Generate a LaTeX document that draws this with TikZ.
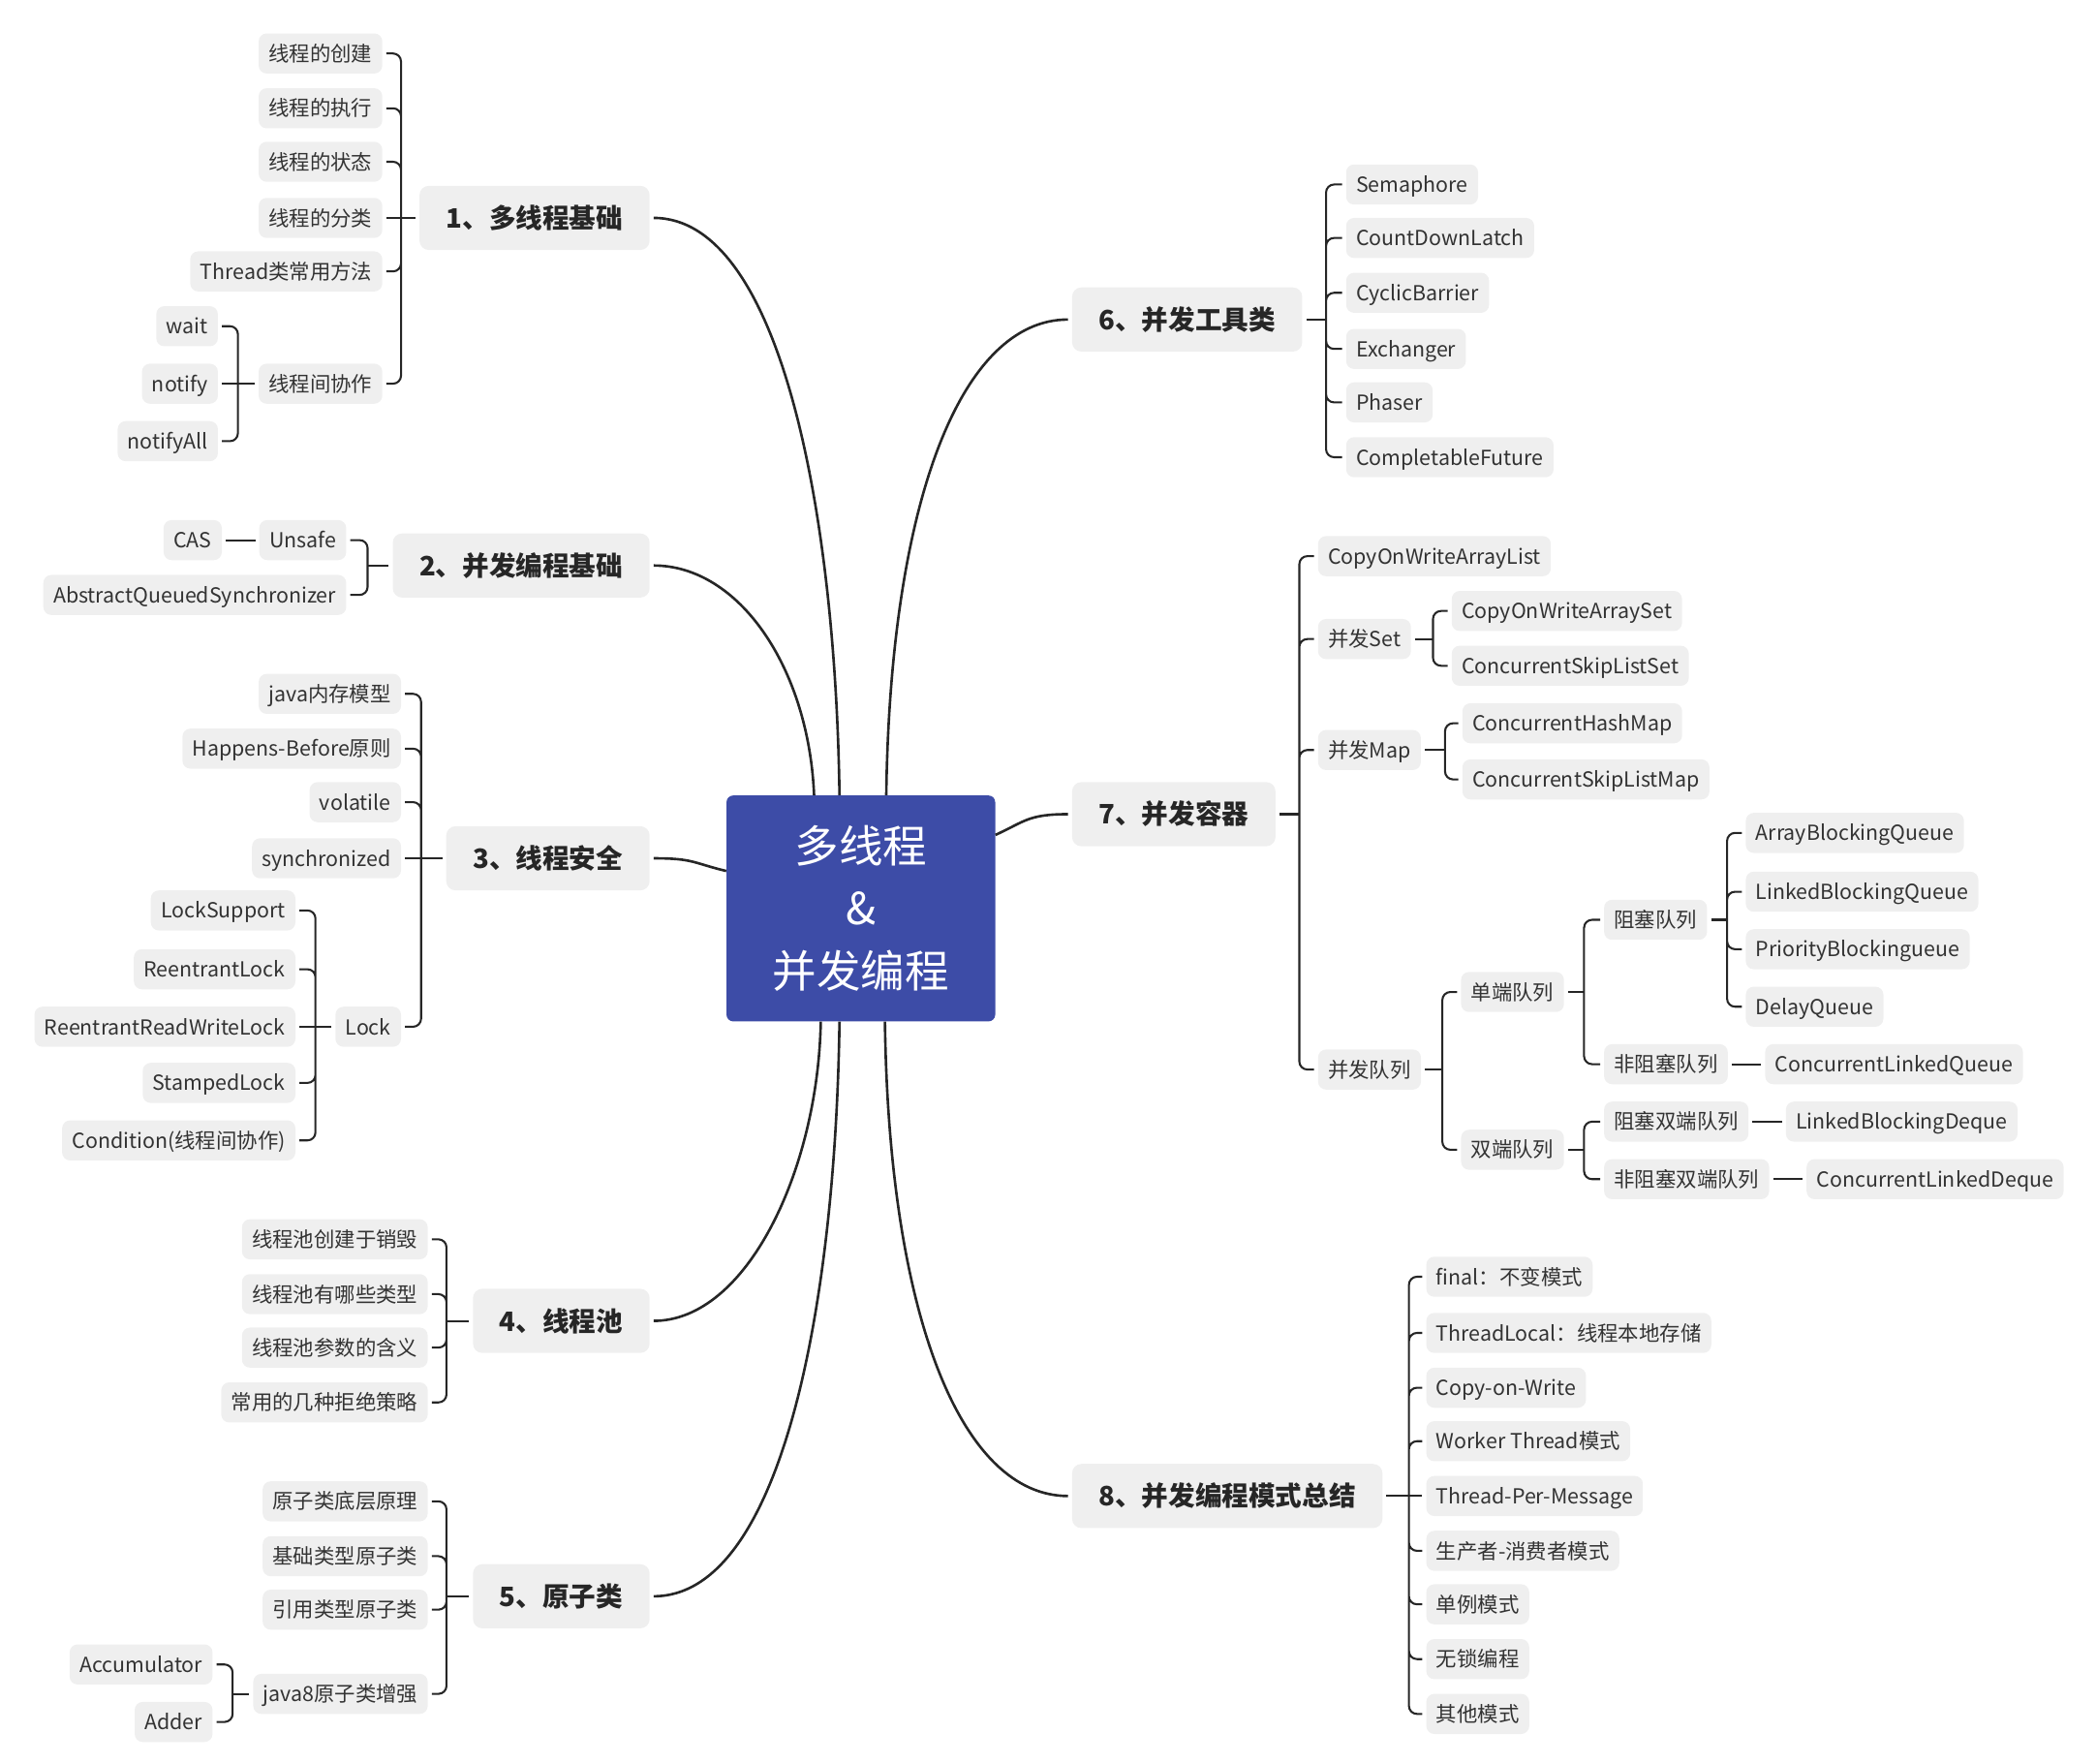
\documentclass[tikz,border=0pt]{standalone}
\usepackage{fontspec}
\setmainfont{Noto Sans CJK SC}
\usepackage{xcolor}
\usepackage{tikz}
\usetikzlibrary{
    positioning
}
\definecolor{hubblue}{RGB}{61,76,167}
\definecolor{boxgray}{RGB}{239,239,239}
\definecolor{inkgray}{RGB}{51,51,51}
\definecolor{linegray}{RGB}{38,38,38}
\tikzstyle{leaf} = [
    fill=boxgray,
    rounded corners=6pt,
    text=inkgray,
    font=\fontsize{15.5}{18}\selectfont,
    text height=13.6pt,
    text depth=1.9pt,
    inner xsep=7.5pt,
    inner ysep=0pt,
    outer xsep=3pt,
    minimum height=30pt
]
\tikzstyle{topic} = [
    fill=boxgray,
    rounded corners=7pt,
    text=black!85,
    font=\fontsize{20}{24}\selectfont\bfseries,
    text height=17.6pt,
    text depth=2.4pt,
    inner xsep=20pt,
    inner ysep=0pt,
    outer xsep=3pt,
    minimum height=48pt
]
\tikzstyle{hub} = [
    fill=hubblue,
    rounded corners=5pt,
    text=white,
    font=\fontsize{33}{47}\selectfont,
    align=center,
    minimum width=201pt,
    minimum height=169pt,
    inner sep=0pt
]
\tikzstyle{branch} = [
    line width=1.5pt,
    draw=linegray,
    rounded corners=6pt
]
\tikzstyle{trunk} = [
    line width=1.9pt,
    draw=linegray
]

\begin{document}
\begin{tikzpicture}[x=1pt, y=-1pt]
\useasboundingbox (0,0) rectangle (1568,1319);

\node[hub] (hub) at (644,679.5) {多线程\\\&\\并发编程};

\node[topic, anchor=east] (t1) at (489,163) {1、多线程基础};
\node[topic, anchor=east] (t2) at (489,423) {2、并发编程基础};
\node[topic, anchor=east] (t3) at (489,642) {3、线程安全};
\node[topic, anchor=east] (t4) at (489,988) {4、线程池};
\node[topic, anchor=east] (t5) at (489,1194) {5、原子类};
\node[topic, anchor=west] (t6) at (799,239) {6、并发工具类};
\node[topic, anchor=west] (t7) at (799,609) {7、并发容器};
\node[topic, anchor=west] (t8) at (799,1119) {8、并发编程模式总结};

\draw[trunk] (t1.east) .. controls +(94,0) and +(-3,-215) .. ([xshift=-16pt]hub.north);
\draw[trunk] (t2.east) .. controls +(64,0) and +(-4,-95) .. ([xshift=-35pt]hub.north);
\draw[trunk] (t3.east) .. controls +(30,0) and +(-25,-6) .. ([yshift=28pt]hub.west);
\draw[trunk] (t4.east) .. controls +(70,0) and +(-2,110) .. ([xshift=-30pt]hub.south);
\draw[trunk] (t5.east) .. controls +(95,0) and +(-3,215) .. ([xshift=-16pt]hub.south);
\draw[trunk] (t6.west) .. controls +(-80,0) and +(3,-220) .. ([xshift=19pt]hub.north);
\draw[trunk] (t7.west) .. controls +(-30,0) and +(22,-10) .. ([yshift=55pt]hub.east);
\draw[trunk] (t8.west) .. controls +(-80,0) and +(3,220) .. ([xshift=18pt]hub.south);

\coordinate (j1) at (300,163);
\coordinate (ja6) at (178,287);
\node[leaf, anchor=east] (a1) at (289,40) {线程的创建};
\node[leaf, anchor=east] (a2) at (289,81) {线程的执行};
\node[leaf, anchor=east] (a3) at (289,121) {线程的状态};
\node[leaf, anchor=east] (a4) at (289,163) {线程的分类};
\node[leaf, anchor=east] (a5) at (289,203) {Thread类常用方法};
\node[leaf, anchor=east] (a6) at (289,287) {线程间协作};
\node[leaf, anchor=east] (a61) at (166,244) {wait};
\node[leaf, anchor=east] (a62) at (166,287) {notify};
\node[leaf, anchor=east] (a63) at (166,330) {notifyAll};
\draw[branch] (a1.east) -| (j1) (a2.east) -| (j1) (a3.east) -| (j1) (a5.east) -| (j1) (a6.east) -| (j1);
\draw[branch] (a4.east) -- (j1) -- (t1.west);
\draw[branch] (a61.east) -| (ja6) (a63.east) -| (ja6);
\draw[branch] (a62.east) -- (ja6) -- (a6.west);

\coordinate (j2) at (275,423);
\node[leaf, anchor=east] (b1) at (262,404) {Unsafe};
\node[leaf, left=22pt of b1] (b11) {CAS};
\node[leaf, anchor=east] (b2) at (262,445) {AbstractQueuedSynchronizer};
\draw[branch] (b1.east) -| (j2) (b2.east) -| (j2);
\draw[branch] (j2) -- (t2.west);
\draw[branch] (b11.east) -- (b1.west);

\coordinate (j3) at (315,642);
\coordinate (jc5) at (236,768);
\node[leaf, anchor=east] (c1) at (303,519) {java内存模型};
\node[leaf, anchor=east] (c2) at (303,560) {Happens-Before原则};
\node[leaf, anchor=east] (c3) at (303,600) {volatile};
\node[leaf, anchor=east] (c4) at (303,642) {synchronized};
\node[leaf, anchor=east] (c5) at (303,768) {Lock};
\node[leaf, anchor=east] (c51) at (224,681) {LockSupport};
\node[leaf, anchor=east] (c52) at (224,725) {ReentrantLock};
\node[leaf, anchor=east] (c53) at (224,768) {ReentrantReadWriteLock};
\node[leaf, anchor=east] (c54) at (224,810) {StampedLock};
\node[leaf, anchor=east] (c55) at (224,853) {Condition(线程间协作)};
\draw[branch] (c1.east) -| (j3) (c2.east) -| (j3) (c3.east) -| (j3) (c5.east) -| (j3);
\draw[branch] (c4.east) -- (j3) -- (t3.west);
\draw[branch] (c51.east) -| (jc5) (c52.east) -| (jc5) (c54.east) -| (jc5) (c55.east) -| (jc5);
\draw[branch] (c53.east) -- (jc5) -- (c5.west);

\coordinate (j4) at (334,988);
\node[leaf, anchor=east] (d1) at (323,927) {线程池创建于销毁};
\node[leaf, anchor=east] (d2) at (323,968) {线程池有哪些类型};
\node[leaf, anchor=east] (d3) at (323,1008) {线程池参数的含义};
\node[leaf, anchor=east] (d4) at (323,1049) {常用的几种拒绝策略};
\draw[branch] (d1.east) -| (j4) (d2.east) -| (j4) (d3.east) -| (j4) (d4.east) -| (j4);
\draw[branch] (j4) -- (t4.west);

\coordinate (j5) at (334,1194);
\coordinate (je4) at (174,1267);
\node[leaf, anchor=east] (e1) at (323,1123) {原子类底层原理};
\node[leaf, anchor=east] (e2) at (323,1164) {基础类型原子类};
\node[leaf, anchor=east] (e3) at (323,1204) {引用类型原子类};
\node[leaf, anchor=east] (e4) at (323,1267) {java8原子类增强};
\node[leaf, anchor=east] (e41) at (162,1245) {Accumulator};
\node[leaf, anchor=east] (e42) at (162,1288) {Adder};
\draw[branch] (e1.east) -| (j5) (e2.east) -| (j5) (e3.east) -| (j5) (e4.east) -| (j5);
\draw[branch] (j5) -- (t5.west);
\draw[branch] (e41.east) -| (je4) (e42.east) -| (je4);
\draw[branch] (je4) -- (e4.west);

\coordinate (j6) at (992,239);
\node[leaf, anchor=west] (f1) at (1004,138) {Semaphore};
\node[leaf, anchor=west] (f2) at (1004,178) {CountDownLatch};
\node[leaf, anchor=west] (f3) at (1004,219) {CyclicBarrier};
\node[leaf, anchor=west] (f4) at (1004,261) {Exchanger};
\node[leaf, anchor=west] (f5) at (1004,301) {Phaser};
\node[leaf, anchor=west] (f6) at (1004,342) {CompletableFuture};
\draw[branch] (f1.west) -| (j6) (f2.west) -| (j6) (f3.west) -| (j6) (f4.west) -| (j6) (f5.west) -| (j6) (f6.west) -| (j6);
\draw[branch] (j6) -- (t6.east);

\coordinate (j7) at (972,609);
\coordinate (jg2) at (1072,478);
\coordinate (jg3) at (1081,561);
\coordinate (jg4) at (1079,800);
\coordinate (jg41) at (1185,742);
\coordinate (jg411) at (1292,688);
\coordinate (jg42) at (1185,860);
\node[leaf, anchor=west] (g1) at (983,416) {CopyOnWriteArrayList};
\node[leaf, anchor=west] (g2) at (983,478) {并发Set};
\node[leaf, anchor=west] (g21) at (1083,457) {CopyOnWriteArraySet};
\node[leaf, anchor=west] (g22) at (1083,498) {ConcurrentSkipListSet};
\node[leaf, anchor=west] (g3) at (983,561) {并发Map};
\node[leaf, anchor=west] (g31) at (1091,541) {ConcurrentHashMap};
\node[leaf, anchor=west] (g32) at (1091,583) {ConcurrentSkipListMap};
\node[leaf, anchor=west] (g4) at (983,800) {并发队列};
\node[leaf, anchor=west] (g41) at (1090,742) {单端队列};
\node[leaf, anchor=west] (g411) at (1197,688) {阻塞队列};
\node[leaf, anchor=west] (q1) at (1303,623) {ArrayBlockingQueue};
\node[leaf, anchor=west] (q2) at (1303,667) {LinkedBlockingQueue};
\node[leaf, anchor=west] (q3) at (1303,710) {PriorityBlockingueue};
\node[leaf, anchor=west] (q4) at (1303,753) {DelayQueue};
\node[leaf, anchor=west] (g412) at (1197,796) {非阻塞队列};
\node[leaf, right=22pt of g412] (g4121) {ConcurrentLinkedQueue};
\node[leaf, anchor=west] (g42) at (1090,860) {双端队列};
\node[leaf, anchor=west] (g421) at (1197,839) {阻塞双端队列};
\node[leaf, right=22pt of g421] (g4211) {LinkedBlockingDeque};
\node[leaf, anchor=west] (g422) at (1197,882) {非阻塞双端队列};
\node[leaf, right=22pt of g422] (g4221) {ConcurrentLinkedDeque};
\draw[branch] (g1.west) -| (j7) (g2.west) -| (j7) (g3.west) -| (j7) (g4.west) -| (j7);
\draw[branch] (j7) -- (t7.east);
\draw[branch] (g21.west) -| (jg2) (g22.west) -| (jg2);
\draw[branch] (jg2) -- (g2.east);
\draw[branch] (g31.west) -| (jg3) (g32.west) -| (jg3);
\draw[branch] (jg3) -- (g3.east);
\draw[branch] (g41.west) -| (jg4) (g42.west) -| (jg4);
\draw[branch] (jg4) -- (g4.east);
\draw[branch] (g411.west) -| (jg41) (g412.west) -| (jg41);
\draw[branch] (jg41) -- (g41.east);
\draw[branch] (q1.west) -| (jg411) (q2.west) -| (jg411) (q3.west) -| (jg411) (q4.west) -| (jg411);
\draw[branch] (jg411) -- (g411.east);
\draw[branch] (g421.west) -| (jg42) (g422.west) -| (jg42);
\draw[branch] (jg42) -- (g42.east);
\draw[branch] (g412.east) -- (g4121.west);
\draw[branch] (g421.east) -- (g4211.west);
\draw[branch] (g422.east) -- (g4221.west);

\coordinate (j8) at (1054,1119);
\node[leaf, anchor=west] (h1) at (1064,955) {final：不变模式};
\node[leaf, anchor=west] (h2) at (1064,997) {ThreadLocal：线程本地存储};
\node[leaf, anchor=west] (h3) at (1064,1038) {Copy-on-Write};
\node[leaf, anchor=west] (h4) at (1064,1078) {Worker Thread模式};
\node[leaf, anchor=west] (h5) at (1064,1119) {Thread-Per-Message};
\node[leaf, anchor=west] (h6) at (1064,1160) {生产者-消费者模式};
\node[leaf, anchor=west] (h7) at (1064,1200) {单例模式};
\node[leaf, anchor=west] (h8) at (1064,1241) {无锁编程};
\node[leaf, anchor=west] (h9) at (1064,1282) {其他模式};
\draw[branch] (h1.west) -| (j8) (h2.west) -| (j8) (h3.west) -| (j8) (h4.west) -| (j8) (h6.west) -| (j8) (h7.west) -| (j8) (h8.west) -| (j8) (h9.west) -| (j8);
\draw[branch] (h5.west) -- (j8) -- (t8.east);
\end{tikzpicture}
\end{document}
